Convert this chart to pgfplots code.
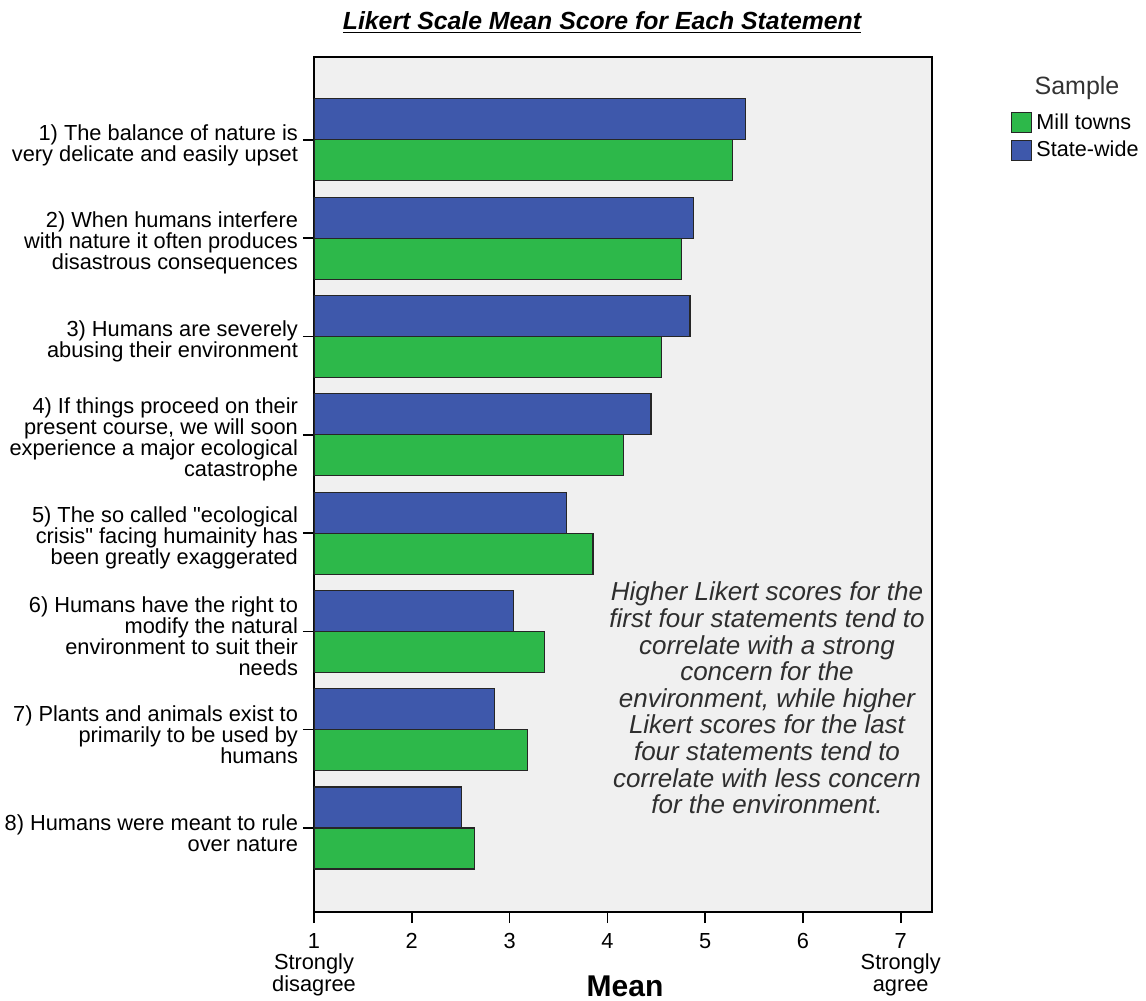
\documentclass[border=0pt]{standalone}
\usepackage{pgfplots}
\pgfplotsset{compat=1.18}
\usepackage{fontspec}
\setmainfont{Liberation Sans}
\definecolor{blueS}{HTML}{3E58AB}
\definecolor{greenM}{HTML}{2DB84A}
\definecolor{bgG}{HTML}{F0F0F0}
\pgfplotsset{sqlegend/.style={legend image code/.code={\draw[##1, bar shift=0pt] (0pt,-5.1pt) rectangle (10pt,5.1pt);}}}
\begin{document}
\begin{tikzpicture}
\useasboundingbox (-157pt,-44.5pt) rectangle (416pt,456pt);
\begin{axis}[
  at={(0,0)}, anchor=south west,
  scale only axis, width=309pt, height=427.5pt,
  xmin=1, xmax=7.32, ymin=0.145, ymax=8.844,
  xbar, bar width=20.5pt,
  axis background/.style={fill=bgG},
  axis line style={black, line width=0.9pt},
  tick align=outside, major tick length=5.5pt,
  tick style={black, line width=0.8pt},
  xtick pos=lower, ytick pos=left,
  xtick={1,2,3,4,5,6,7},
  xticklabels={{1\\Strongly\\disagree},2,3,4,5,6,{7\\Strongly\\agree}},
  xticklabel style={align=center, font=\fontsize{10.9}{10.75}\selectfont, yshift=-1.5pt},
  ytick={1,2,3,4,5,6,7,8},
  yticklabels={
    {8) Humans were meant to rule\\over nature},
    {7) Plants and animals exist to\\primarily to be used by\\humans},
    {6) Humans have the right to\\modify the natural\\environment to suit their\\needs},
    {5) The so called \textquotedbl ecological\\crisis\textquotedbl{} facing humainity has\\been greatly exaggerated},
    {4) If things proceed on their\\present course, we will soon\\experience a major ecological\\catastrophe},
    {3) Humans are severely\\abusing their environment},
    {2) When humans interfere\\with nature it often produces\\disastrous consequences},
    {1) The balance of nature is\\very delicate and easily upset}},
  yticklabel style={align=right, font=\fontsize{10.9}{10.5}\selectfont, yshift=-2.5pt, xshift=1pt},
  /pgf/number format/assume math mode=true,
  legend style={draw=none, fill=none, at={(1.1278,0.9392)}, anchor=north west,
    inner sep=0pt, row sep=0.5pt, font=\fontsize{10.8}{11}\selectfont,
    /tikz/every even column/.append style={column sep=2pt}},
  legend cell align=left,
]
\addplot[sqlegend, fill=greenM, draw=black!85, line width=0.55pt, bar shift=-10.25pt]
  coordinates {(5.281,8) (4.756,7) (4.558,6) (4.167,5) (3.853,4) (3.355,3) (3.188,2) (2.643,1)};
\addplot[sqlegend, fill=blueS, draw=black!85, line width=0.55pt, bar shift=10.25pt]
  coordinates {(5.417,8) (4.878,7) (4.845,6) (4.446,5) (3.584,4) (3.042,3) (2.848,2) (2.510,1)};
\legend{Mill towns, State-wide}
\end{axis}
\node[font=\fontsize{12.4}{13}\selectfont\bfseries\itshape] at (144pt,444.5pt) {\underline{Likert Scale Mean Score for Each Statement}};
\node[font=\fontsize{12.5}{13}\selectfont, text=black!80] at (381.5pt,412pt) {Sample};
\node[font=\fontsize{15}{16}\selectfont\bfseries, inner sep=0pt] at (155.5pt,-37pt) {Mean};
\node[align=center, font=\fontsize{13}{13.3}\selectfont\itshape, text=black!82] at (226.5pt,107pt) {Higher Likert scores for the\\first four statements tend to\\correlate with a strong\\concern for the\\environment, while higher\\Likert scores for the last\\four statements tend to\\correlate with less concern\\for the environment.};
\end{tikzpicture}
\end{document}
